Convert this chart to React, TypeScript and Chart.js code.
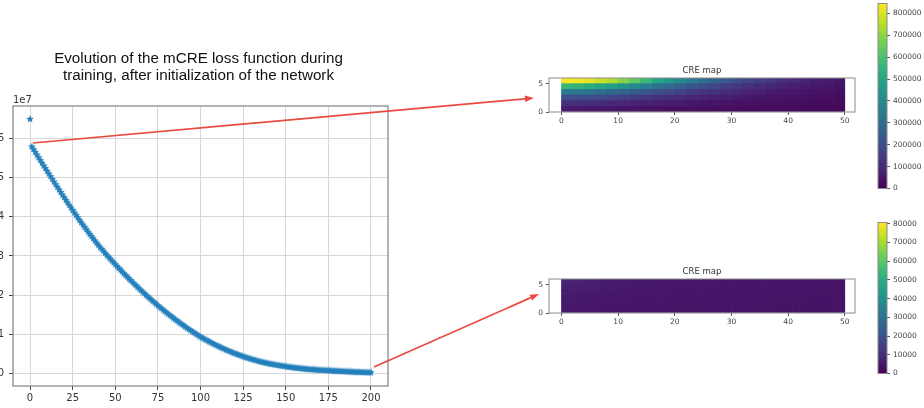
import React, { useEffect, useRef } from "react";
import { Chart, registerables } from "chart.js";
Chart.register(...registerables);

// ---------------- data ----------------
const LOSS_X_TICKS = [0, 25, 50, 75, 100, 125, 150, 175, 200];
const LOSS_Y_TICKS = [0, 1, 2, 3, 4, 5, 6];
const LOSS_TITLE = ["Evolution of the mCRE loss function during", "training, after initialization of the network"];
const LOSS_EXPONENT = "1e7";
// mCRE loss per epoch, in units of 1e7
const LOSS_1E7 = [
  6.50,
  5.80, 5.73, 5.66, 5.59, 5.52,
  5.451, 5.382, 5.313, 5.244, 5.175,
  5.107, 5.039, 4.971, 4.903, 4.835,
  4.768, 4.701, 4.634, 4.567, 4.500,
  4.435, 4.370, 4.305, 4.240, 4.175,
  4.112, 4.049, 3.986, 3.923, 3.860,
  3.801, 3.742, 3.683, 3.624, 3.565,
  3.509, 3.453, 3.397, 3.341, 3.285,
  3.234, 3.183, 3.132, 3.081, 3.030,
  2.982, 2.934, 2.886, 2.838, 2.790,
  2.744, 2.698, 2.652, 2.606, 2.560,
  2.516, 2.472, 2.428, 2.384, 2.340,
  2.298, 2.256, 2.214, 2.172, 2.130,
  2.090, 2.050, 2.010, 1.970, 1.930,
  1.892, 1.854, 1.816, 1.778, 1.740,
  1.704, 1.668, 1.632, 1.596, 1.560,
  1.526, 1.492, 1.458, 1.424, 1.390,
  1.358, 1.326, 1.294, 1.262, 1.230,
  1.200, 1.170, 1.140, 1.110, 1.080,
  1.052, 1.024, 0.996, 0.968, 0.940,
  0.916, 0.892, 0.868, 0.844, 0.820,
  0.798, 0.776, 0.754, 0.732, 0.710,
  0.690, 0.670, 0.650, 0.630, 0.610,
  0.592, 0.574, 0.556, 0.538, 0.520,
  0.504, 0.488, 0.472, 0.456, 0.440,
  0.426, 0.412, 0.398, 0.384, 0.370,
  0.358, 0.346, 0.334, 0.322, 0.310,
  0.300, 0.290, 0.280, 0.270, 0.260,
  0.252, 0.244, 0.236, 0.228, 0.220,
  0.213, 0.206, 0.199, 0.192, 0.185,
  0.179, 0.173, 0.167, 0.161, 0.155,
  0.150, 0.145, 0.140, 0.135, 0.130,
  0.126, 0.122, 0.118, 0.114, 0.110,
  0.107, 0.104, 0.101, 0.098, 0.095,
  0.092, 0.090, 0.087, 0.085, 0.082,
  0.080, 0.077, 0.075, 0.072, 0.070,
  0.068, 0.065, 0.063, 0.060, 0.058,
  0.056, 0.054, 0.051, 0.049, 0.047,
  0.045, 0.043, 0.042, 0.040, 0.038,
  0.036, 0.035, 0.033, 0.032, 0.030,
];

const MAP_TITLE = "CRE map";
const MAP_X_TICKS = [0, 10, 20, 30, 40, 50];
const MAP_Y_TICKS = [0, 5];
const MAP_COL_CENTERS = [1, 3, 5, 7, 9, 11, 13, 15, 17, 19, 21, 23, 25, 27, 29, 31, 33, 35, 37, 39, 41, 43, 45, 47, 49];
const MAP_ROW_BOTTOMS = [0, 1, 2, 3, 4, 5];

// top CRE map values (thousands), one array per row from y=0 to y=5
const MAP1_ROW0 = [60, 58, 56, 54, 51, 48, 45, 42, 40, 38, 36, 34, 32, 30, 28, 27, 26, 25, 24, 23, 22, 21, 20, 20, 19];
const MAP1_ROW1 = [115, 111, 106, 101, 95, 89, 83, 77, 71, 65, 60, 55, 51, 47, 44, 41, 38, 35, 33, 31, 29, 27, 26, 25, 24];
const MAP1_ROW2 = [205, 198, 190, 180, 169, 157, 145, 133, 121, 110, 100, 91, 83, 75, 68, 62, 56, 51, 47, 43, 40, 37, 34, 32, 30];
const MAP1_ROW3 = [345, 334, 320, 304, 286, 266, 245, 224, 204, 185, 166, 149, 133, 118, 105, 93, 83, 74, 66, 59, 53, 48, 44, 40, 37];
const MAP1_ROW4 = [560, 545, 525, 498, 466, 432, 395, 358, 322, 288, 256, 226, 199, 175, 154, 135, 118, 103, 91, 80, 71, 63, 56, 50, 45];
const MAP1_ROW5 = [840, 830, 810, 780, 740, 690, 630, 565, 505, 450, 398, 350, 307, 268, 234, 203, 176, 152, 131, 113, 97, 84, 73, 64, 56];

// bottom CRE map values (thousands)
const MAP2_ROW0 = [5.2, 5.0, 4.9, 4.8, 4.8, 4.7, 4.7, 4.6, 4.6, 4.6, 4.5, 4.5, 4.5, 4.4, 4.4, 4.4, 4.3, 4.3, 4.3, 4.2, 4.2, 4.2, 4.1, 4.1, 4.1];
const MAP2_ROW1 = [5.6, 5.4, 5.2, 5.1, 5.0, 5.0, 4.9, 4.9, 4.8, 4.8, 4.8, 4.7, 4.7, 4.6, 4.6, 4.6, 4.5, 4.5, 4.5, 4.4, 4.4, 4.4, 4.3, 4.3, 4.3];
const MAP2_ROW2 = [6.0, 5.8, 5.5, 5.3, 5.2, 5.1, 5.0, 5.0, 4.9, 4.9, 4.9, 4.8, 4.8, 4.7, 4.7, 4.7, 4.6, 4.6, 4.6, 4.5, 4.5, 4.5, 4.4, 4.4, 4.4];
const MAP2_ROW3 = [6.5, 6.2, 5.9, 5.6, 5.4, 5.3, 5.2, 5.1, 5.0, 5.0, 5.0, 4.9, 4.9, 4.8, 4.8, 4.8, 4.7, 4.7, 4.7, 4.6, 4.6, 4.6, 4.5, 4.5, 4.5];
const MAP2_ROW4 = [7.2, 6.8, 6.4, 6.0, 5.7, 5.5, 5.4, 5.3, 5.2, 5.1, 5.1, 5.0, 5.0, 4.9, 4.9, 4.9, 4.8, 4.8, 4.8, 4.7, 4.7, 4.7, 4.6, 4.6, 4.6];
const MAP2_ROW5 = [8.0, 7.5, 7.0, 6.5, 6.1, 5.8, 5.6, 5.5, 5.4, 5.3, 5.2, 5.2, 5.1, 5.1, 5.0, 5.0, 5.0, 4.9, 4.9, 4.9, 4.8, 4.8, 4.8, 4.7, 4.7];

const CBAR1_TICKS = [0, 100000, 200000, 300000, 400000, 500000, 600000, 700000, 800000];
const CBAR1_MAX = 845000;
const CBAR2_TICKS = [0, 10000, 20000, 30000, 40000, 50000, 60000, 70000, 80000];
const CBAR2_MAX = 80600;

// ---------------- styles ----------------
const VIRIDIS = [
  [68, 1, 84], [72, 36, 117], [65, 68, 135], [53, 95, 141], [42, 120, 142],
  [33, 145, 140], [34, 168, 132], [68, 191, 112], [122, 209, 81], [189, 223, 38], [253, 231, 37],
];
function viridis(t: number): string {
  const u = Math.max(0, Math.min(1, t)) * (VIRIDIS.length - 1);
  const i = Math.min(VIRIDIS.length - 2, Math.floor(u));
  const f = u - i;
  const a = VIRIDIS[i], b = VIRIDIS[i + 1];
  return `rgb(${Math.round(a[0] + (b[0] - a[0]) * f)},${Math.round(a[1] + (b[1] - a[1]) * f)},${Math.round(a[2] + (b[2] - a[2]) * f)})`;
}

const TICK_FONT = "DejaVu Sans";
const BLUE = "#2580bd";
const RED = "#ea4a3f";
const FRAME = "#8a8a8a";

function makeStar(color: string, size: number): HTMLCanvasElement {
  const c = document.createElement("canvas");
  c.width = size;
  c.height = size;
  const ctx = c.getContext("2d")!;
  ctx.fillStyle = color;
  ctx.beginPath();
  const cx = size / 2, cy = size / 2 + 0.3, R = size / 2, r = R * 0.45;
  for (let k = 0; k < 10; k++) {
    const a = -Math.PI / 2 + (k * Math.PI) / 5;
    const rad = k % 2 === 0 ? R : r;
    ctx.lineTo(cx + rad * Math.cos(a), cy + rad * Math.sin(a));
  }
  ctx.closePath();
  ctx.fill();
  return c;
}

const boxPlugin = (color: string, width: number) => ({
  id: "box",
  afterDraw(chart: any) {
    const { ctx, chartArea: a } = chart;
    ctx.save();
    ctx.strokeStyle = color;
    ctx.lineWidth = width;
    ctx.strokeRect(a.left, a.top, a.right - a.left, a.bottom - a.top);
    ctx.restore();
  },
});

function fixedTicks(values: number[]) {
  return (scale: any) => {
    scale.ticks = values.map((v) => ({ value: v }));
  };
}

// ---------------- components ----------------
function useChart(make: (canvas: HTMLCanvasElement) => Chart) {
  const ref = useRef<HTMLCanvasElement>(null);
  useEffect(() => {
    const ch = make(ref.current!);
    return () => ch.destroy();
  }, []);
  return ref;
}

function LossChart() {
  const W = 430, H = 368;
  const ref = useChart((canvas) =>
    new Chart(canvas, {
      type: "scatter",
      data: {
        datasets: [
          {
            data: LOSS_1E7.map((v, i) => ({ x: i, y: v })),
            pointStyle: makeStar(BLUE, 8) as any,
            pointRadius: 4,
            showLine: false,
          },
        ],
      },
      options: {
        responsive: false,
        animation: false,
        events: [],
        layout: { padding: { top: 66, right: 12, left: 0, bottom: 0 } },
        plugins: { legend: { display: false }, tooltip: { enabled: false } },
        scales: {
          x: {
            type: "linear",
            min: -10,
            max: 210,
            afterBuildTicks: fixedTicks(LOSS_X_TICKS),
            afterFit: (s: any) => { s.height = 22; },
            grid: { color: "#d8d8d8", lineWidth: 1, tickColor: "#444", tickLength: 4 },
            border: { display: false },
            ticks: { font: { family: TICK_FONT, size: 10 }, color: "#333", padding: 2, maxRotation: 0, autoSkip: false },
          },
          y: {
            type: "linear",
            min: -0.32,
            max: 6.83,
            afterBuildTicks: fixedTicks(LOSS_Y_TICKS),
            afterFit: (s: any) => { s.width = 43; },
            grid: { color: "#d8d8d8", lineWidth: 1, tickColor: "#444", tickLength: 4 },
            border: { display: false },
            ticks: { font: { family: TICK_FONT, size: 10 }, color: "#333", padding: 5 },
          },
        },
      },
      plugins: [
        boxPlugin(FRAME, 1.3),
        {
          id: "titles",
          afterDraw(chart: any) {
            const { ctx, chartArea: a } = chart;
            ctx.save();
            ctx.fillStyle = "#111";
            ctx.font = "15.2px 'Liberation Sans', Arial, sans-serif";
            ctx.textAlign = "center";
            ctx.textBaseline = "alphabetic";
            const cx = (a.left + a.right) / 2 - 2;
            ctx.fillText(LOSS_TITLE[0], cx, a.top - 43.5);
            ctx.fillText(LOSS_TITLE[1], cx, a.top - 26.5);
            ctx.font = `10px '${TICK_FONT}'`;
            ctx.fillStyle = "#333";
            ctx.textAlign = "left";
            ctx.fillText(LOSS_EXPONENT, a.left, a.top - 3);
            ctx.restore();
          },
        },
      ],
    } as any)
  );
  return <canvas ref={ref} width={W} height={H} style={{ position: "absolute", left: -30, top: 40, width: W, height: H }} />;
}

function CreMap({ rows, max, top }: { rows: number[][]; max: number; top: number }) {
  const W = 350, H = 80;
  const ref = useChart((canvas) =>
    new Chart(canvas, {
      type: "bar",
      data: {
        datasets: MAP_ROW_BOTTOMS.map((r, ri) => ({
          data: MAP_COL_CENTERS.map((x) => ({ x, y: [r, r + 1] })),
          backgroundColor: rows[ri].map((v) => viridis((v * 1000) / max)),
          borderWidth: 0,
          barPercentage: 1,
          categoryPercentage: 1,
          grouped: false,
        })),
      },
      options: {
        responsive: false,
        animation: false,
        events: [],
        layout: { padding: { top: 23, right: 10, left: 0, bottom: 0 } },
        plugins: { legend: { display: false }, tooltip: { enabled: false } },
        scales: {
          x: {
            type: "linear",
            min: -2.2,
            max: 51.8,
            offset: false,
            afterBuildTicks: fixedTicks(MAP_X_TICKS),
            afterFit: (s: any) => { s.height = 23; },
            grid: { display: true, drawOnChartArea: false, tickColor: "#555", tickLength: 3, offset: false },
            border: { display: false },
            ticks: { font: { family: TICK_FONT, size: 7.5 }, color: "#444", padding: 2, maxRotation: 0, autoSkip: false },
          },
          y: {
            type: "linear",
            min: 0,
            max: 6,
            afterBuildTicks: fixedTicks(MAP_Y_TICKS),
            afterFit: (s: any) => { s.width = 34; },
            grid: { display: true, drawOnChartArea: false, tickColor: "#555", tickLength: 3 },
            border: { display: false },
            ticks: { font: { family: TICK_FONT, size: 7.5 }, color: "#444", padding: 3 },
          },
        },
      },
      plugins: [
        boxPlugin(FRAME, 1),
        {
          id: "maptitle",
          afterDraw(chart: any) {
            const { ctx, chartArea: a } = chart;
            ctx.save();
            ctx.fillStyle = "#333";
            ctx.font = `8.5px '${TICK_FONT}'`;
            ctx.textAlign = "center";
            ctx.textBaseline = "alphabetic";
            ctx.fillText(MAP_TITLE, (a.left + a.right) / 2, a.top - 5);
            ctx.restore();
          },
        },
      ],
    } as any)
  );
  return <canvas ref={ref} width={W} height={H} style={{ position: "absolute", left: 515, top, width: W, height: H }} />;
}

function ColorBar({ ticks, max, top, height }: { ticks: number[]; max: number; top: number; height: number }) {
  const W = 54;
  const ref = useChart((canvas) =>
    new Chart(canvas, {
      type: "scatter",
      data: { datasets: [] },
      options: {
        responsive: false,
        animation: false,
        events: [],
        layout: { padding: { top: 0, right: 0, left: 8, bottom: 0 } },
        plugins: { legend: { display: false }, tooltip: { enabled: false } },
        scales: {
          x: { display: false, min: 0, max: 1 },
          y: {
            type: "linear",
            position: "right",
            min: 0,
            max,
            afterBuildTicks: fixedTicks(ticks),
            afterFit: (s: any) => { s.width = 37; },
            grid: { display: true, drawOnChartArea: false, tickColor: "#555", tickLength: 3 },
            border: { display: false },
            ticks: { font: { family: TICK_FONT, size: 7.5 }, color: "#444", padding: 3, callback: (v: any) => String(v) },
          },
        },
      },
      plugins: [
        {
          id: "gradient",
          beforeDatasetsDraw(chart: any) {
            const { ctx, chartArea: a } = chart;
            const g = ctx.createLinearGradient(0, a.bottom, 0, a.top);
            VIRIDIS.forEach((_, i) => g.addColorStop(i / (VIRIDIS.length - 1), viridis(i / (VIRIDIS.length - 1))));
            ctx.save();
            ctx.fillStyle = g;
            ctx.fillRect(a.left, a.top, a.right - a.left, a.bottom - a.top);
            ctx.restore();
          },
        },
        boxPlugin(FRAME, 1),
      ],
    } as any)
  );
  return <canvas ref={ref} width={W} height={height} style={{ position: "absolute", left: 870, top, width: W, height }} />;
}

function Arrow({ x1, y1, x2, y2 }: { x1: number; y1: number; x2: number; y2: number }) {
  const ang = Math.atan2(y2 - y1, x2 - x1);
  const L = 9, Wd = 3.2;
  const bx = x2 - L * Math.cos(ang), by = y2 - L * Math.sin(ang);
  const px = -Math.sin(ang) * Wd, py = Math.cos(ang) * Wd;
  return (
    <g>
      <line x1={x1} y1={y1} x2={bx} y2={by} stroke={RED} strokeWidth={1.7} />
      <polygon points={`${x2},${y2} ${bx + px},${by + py} ${bx - px},${by - py}`} fill={RED} />
    </g>
  );
}

export default function App() {
  return (
    <div style={{ position: "absolute", left: 0, top: 0, width: 924, height: 408, background: "#fff", overflow: "hidden" }}>
      <LossChart />
      <CreMap rows={[MAP1_ROW0, MAP1_ROW1, MAP1_ROW2, MAP1_ROW3, MAP1_ROW4, MAP1_ROW5]} max={CBAR1_MAX} top={55} />
      <CreMap rows={[MAP2_ROW0, MAP2_ROW1, MAP2_ROW2, MAP2_ROW3, MAP2_ROW4, MAP2_ROW5]} max={CBAR2_MAX} top={256} />
      <ColorBar ticks={CBAR1_TICKS} max={CBAR1_MAX} top={-4} height={200} />
      <ColorBar ticks={CBAR2_TICKS} max={CBAR2_MAX} top={215} height={166} />
      <svg width={924} height={408} style={{ position: "absolute", left: 0, top: 0, pointerEvents: "none" }}>
        <Arrow x1={33} y1={143} x2={534} y2={98} />
        <Arrow x1={374} y1={367} x2={539} y2={294} />
      </svg>
    </div>
  );
}
